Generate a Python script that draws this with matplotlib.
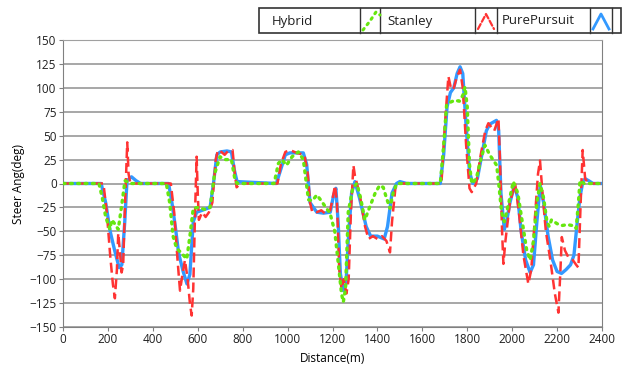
import matplotlib
matplotlib.use('Agg')
import matplotlib.pyplot as plt
from matplotlib.lines import Line2D
from matplotlib.patches import Rectangle

plt.rcParams['font.family'] = ['Open Sans', 'DejaVu Sans']
plt.rcParams['font.size'] = 8.5

# blue solid
blue_x = [0, 170, 190, 210, 230, 250, 262, 275, 285, 305, 325, 345, 470, 485, 500, 515, 535, 552, 565, 580,
          595, 620, 655, 670, 685, 700, 730, 750, 762, 775, 950, 970, 990, 1010, 1040, 1070, 1085, 1100, 1130,
          1160, 1190, 1205, 1215, 1225, 1235, 1248, 1260, 1270, 1285, 1300, 1320, 1350, 1370, 1400, 1430, 1445,
          1465, 1485, 1500, 1530, 1680, 1695, 1710, 1725, 1740, 1755, 1768, 1780, 1795, 1810, 1825, 1845, 1865,
          1885, 1900, 1930, 1940, 1950, 1965, 1975, 1990, 2010, 2025, 2040, 2060, 2080, 2095, 2110, 2125, 2140,
          2160, 2180, 2200, 2220, 2240, 2260, 2275, 2290, 2302, 2315, 2325, 2340, 2360, 2380, 2400]
blue_y = [0, 0, -20, -50, -70, -88, -85, -40, 3, 7, 3, 0, 0, -20, -45, -73, -92, -105, -95, -40,
          -30, -28, -25, 0, 30, 33, 34, 33, 15, 2, 0, 15, 30, 32, 32, 32, 20, -20, -30,
          -31, -30, -12, -5, -40, -94, -112, -105, -60, -10, 2, -15, -45, -55, -55, -58, -45,
          -10, 0, 2, 0, 0, 30, 80, 95, 100, 115, 122, 115, 60, 12, 0, 5, 30,
          55, 62, 66, 55, -10, -48, -40, -20, -2, -15, -50, -80, -93, -85, -40, -2, -20,
          -55, -80, -92, -94, -90, -85, -75, -40, -14, 2, 5, 3, 0, 0, 0]

# red dashed
red_x = [0, 180, 195, 210, 222, 231, 240, 246, 253, 261, 268, 275, 286, 292, 300, 480, 495, 510, 521, 532,
         543, 555, 565, 573, 580, 588, 595, 600, 605, 620, 635, 650, 665, 680, 690, 705, 720, 735, 755, 765,
         773, 790, 955, 970, 990, 1011, 1040, 1075, 1090, 1100, 1110, 1130, 1150, 1170, 1190, 1205, 1211,
         1220, 1230, 1240, 1250, 1262, 1272, 1282, 1293, 1300, 1320, 1345, 1360, 1380, 1400, 1420, 1440,
         1456, 1465, 1480, 1495, 1685, 1700, 1716, 1727, 1738, 1752, 1768, 1780, 1795, 1810, 1820, 1840,
         1860, 1880, 1894, 1920, 1939, 1945, 1955, 1961, 1970, 1990, 2013, 2030, 2050, 2072, 2085, 2100,
         2115, 2124, 2135, 2150, 2170, 2190, 2206, 2215, 2221, 2235, 2250, 2270, 2285, 2295, 2305, 2314,
         2325, 2340, 2400]
red_y = [0, 0, -30, -75, -105, -120, -90, -52, -70, -93, -85, -30, 43, 10, 0, 0, -30, -80, -112, -95,
         -80, -100, -125, -138, -110, -30, 28, -10, -38, -30, -35, -30, -20, 25, 35, 33, 30, 34, 35, 10,
         -4, 0, 0, 20, 33, 35, 32, 30, 10, -20, -30, -30, -28, -32, -28, -10, -2,
         -20, -90, -110, -100, -115, -100, -30, 19, 8, -10, -45, -58, -55, -58, -55, -60,
         -72, -40, -5, 0, 0, 60, 112, 100, 98, 110, 119, 100, 40, -5, -9, 0,
         30, 55, 63, 55, 68, 30, -50, -84, -60, -20, 0, -30, -75, -105, -90, -40,
         10, 24, -10, -50, -80, -115, -135, -90, -56, -70, -77, -80, -85, -88, -20, 35,
         5, 0, 0]

# green dotted
green_x = [0, 160, 175, 190, 209, 217, 230, 246, 260, 276, 300, 460, 475, 490, 506, 525, 551, 565, 580, 600,
           630, 655, 675, 699, 720, 750, 765, 775, 940, 959, 975, 995, 1020, 1048, 1070, 1093, 1110, 1130,
           1150, 1170, 1189, 1210, 1226, 1240, 1248, 1258, 1270, 1290, 1308, 1325, 1344, 1365, 1390, 1410,
           1426, 1440, 1456, 1470, 1486, 1680, 1695, 1708, 1725, 1745, 1765, 1780, 1790, 1800, 1810, 1820,
           1840, 1860, 1879, 1900, 1931, 1940, 1953, 1965, 1985, 2005, 2025, 2045, 2065, 2080, 2095, 2110,
           2124, 2140, 2155, 2165, 2175, 2200, 2220, 2245, 2270, 2285, 2295, 2302, 2320, 2400]
green_y = [0, 0, -15, -35, -48, -38, -42, -48, -25, 3, 0, 0, -20, -55, -68, -72, -79, -55, -26, -25,
           -27, -25, 10, 28, 25, 25, 5, 0, 0, 21, 25, 19, 28, 33, 25, -17, -18, -12,
           -18, -25, -31, -50, -84, -115, -124, -110, -30, -5, 0, -15, -38, -25, -10, -2,
           -4, -15, -26, -10, 0, 0, 40, 82, 85, 87, 86, 92, 101, 80, 20, 0,
           5, 25, 40, 30, 19, 0, -30, -40, -20, 2, -10, -40, -70, -80, -60, -20,
           0, -15, -40, -45, -38, -42, -44, -43, -44, -47, -20, 3, 0, 0]

legend_labels = ['Hybrid', 'Stanley', 'PurePursuit']

W, H = 629, 371
GREEN, RED, BLUE = '#66e60f', '#ff3333', '#3399ff'
green_ls = (0, (0.6, 1.6))
red_ls = (0, (4, 2))

fig = plt.figure(figsize=(W / 100, H / 100), dpi=100)
ax = fig.add_axes([63 / W, 1 - 327 / H, 539 / W, 287 / H])

ax.plot(blue_x, blue_y, color=BLUE, lw=2.4, zorder=3)
ax.plot(red_x, red_y, color=RED, lw=1.8, ls=red_ls, zorder=4)
ax.plot(green_x, green_y, color=GREEN, lw=2.4, ls=green_ls, dash_capstyle='round', zorder=5)

ax.set_xlim(0, 2400)
ax.set_ylim(-150, 150)
ax.set_xticks(range(0, 2401, 200))
ax.set_yticks(range(-150, 151, 25))
ax.yaxis.grid(True, color='#a0a0a0', lw=1.3)
ax.set_axisbelow(True)
for s in ax.spines.values():
    s.set_color('#808080')
ax.spines['top'].set_color('#a0a0a0')
ax.tick_params(length=3, color='#808080', colors='#202020', pad=1.5)
ax.set_xlabel('Distance(m)', labelpad=4)
ax.set_ylabel('Steer Ang(deg)', labelpad=3)

# legend drawn like the LabVIEW plot legend: label cell, then icon cell
def px(x, y):
    return x / W, 1 - y / H

top, bot = 8, 33
x0, y0 = px(259, bot)
fig.add_artist(Rectangle((x0, y0), (621 - 259) / W, (bot - top) / H, transform=fig.transFigure,
                         fill=False, edgecolor='#333333', lw=1.2))
for sx in [360, 380, 475, 497, 590, 612]:
    fig.add_artist(Line2D([sx / W, sx / W], [1 - bot / H, 1 - top / H], transform=fig.transFigure,
                          color='#333333', lw=1.0))
for lab, tx in zip(legend_labels, [272, 387, 502]):
    fig.text(tx / W, 1 - 21 / H, lab, ha='left', va='center', fontsize=9.5, color='#202020')

icons = [(361, GREEN, green_ls, 2.2), (476, RED, (0, (2.5, 1.2)), 1.6), (591, BLUE, '-', 2.0)]
for left, col, ls, lw in icons:
    if col == GREEN:
        xs = [left + 2, left + 9, left + 15, left + 19]
        ys = [30, 21, 12, 15]
    else:
        xs = [left + 2, left + 10, left + 18]
        ys = [29, 14, 29]
    fig.add_artist(Line2D([v / W for v in xs], [1 - v / H for v in ys], transform=fig.transFigure,
                          color=col, lw=lw, ls=ls, dash_capstyle='round'))

fig.savefig('out.png', dpi=100)
